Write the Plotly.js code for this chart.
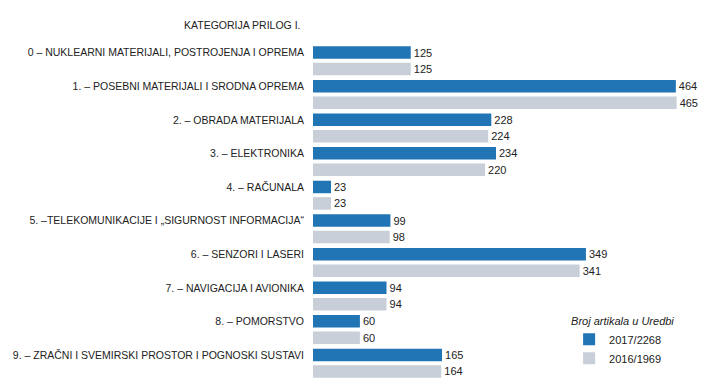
<!DOCTYPE html>
<html><head><meta charset="utf-8">
<script src="https://cdn.plot.ly/plotly-3.0.1.min.js"></script>
<style>html,body{margin:0;padding:0;background:#fff}</style>
</head><body>
<div id="chart" style="width:707px;height:391px"></div>
<script>
const categories = [
  "0 – NUKLEARNI MATERIJALI, POSTROJENJA I OPREMA",
  "1. – POSEBNI MATERIJALI I SRODNA OPREMA",
  "2. – OBRADA MATERIJALA",
  "3. – ELEKTRONIKA",
  "4. – RAČUNALA",
  "5. –TELEKOMUNIKACIJE I „SIGURNOST INFORMACIJA“",
  "6. – SENZORI I LASERI",
  "7. – NAVIGACIJA I AVIONIKA",
  "8. – POMORSTVO",
  "9. – ZRAČNI I SVEMIRSKI PROSTOR I POGNOSKI SUSTAVI"
];
const values2017 = [125, 464, 228, 234, 23, 99, 349, 94, 60, 165];
const values2016 = [125, 465, 224, 220, 23, 98, 341, 94, 60, 164];
const seriesNames = ["2017/2268", "2016/1969"];
const headerText = "KATEGORIJA PRILOG I.";
const legendTitle = "Broj artikala u Uredbi";

const txtFont = {family: "Liberation Sans, Arial, sans-serif", size: 11, color: "#222"};
const traces = [
  {type: "bar", orientation: "h", name: seriesNames[0], y: categories, x: values2017,
   marker: {color: "#2275B5"}, text: values2017.map(String), textposition: "outside",
   textfont: txtFont, cliponaxis: false, hoverinfo: "x+y"},
  {type: "bar", orientation: "h", name: seriesNames[1], y: categories, x: values2016,
   marker: {color: "#C8CFD8"}, text: values2016.map(String), textposition: "outside",
   textfont: txtFont, cliponaxis: false, hoverinfo: "x+y"}
];
const layout = {
  width: 707, height: 391,
  margin: {l: 313, r: 3, t: 44, b: 11, autoexpand: false},
  paper_bgcolor: "#fff", plot_bgcolor: "#fff",
  barmode: "group", bargap: 0.02, bargroupgap: 0.24,
  showlegend: true,
  font: {family: "Liberation Sans, Arial, sans-serif", size: 11, color: "#222"},
  xaxis: {range: [0, 500], showgrid: false, zeroline: false, showticklabels: false, showline: false, fixedrange: true},
  yaxis: {type: "category", autorange: "reversed", showgrid: false, zeroline: false, showline: false,
          ticks: "", ticklabelshift: 8, ticklabelstandoff: 8,
          tickfont: {family: "Liberation Sans, Arial, sans-serif", size: 10.5, color: "#222"}},
  legend: {x: 0.655, y: 0.207, xanchor: "left", yanchor: "top",
           title: {text: "<i>" + legendTitle + "</i>", side: "top", font: {size: 11, color: "#222"}},
           font: {size: 11, color: "#222"}, tracegroupgap: 0, itemwidth: 30, bgcolor: "rgba(0,0,0,0)"},
  annotations: [{xref: "paper", yref: "paper", x: 0, y: 1 + 19/335.5, xanchor: "right", yanchor: "middle",
                 xshift: -10, text: headerText, showarrow: false,
                 font: {family: "Liberation Sans, Arial, sans-serif", size: 10.5, color: "#222"}}]
};
Plotly.newPlot("chart", traces, layout, {displayModeBar: false, staticPlot: true});
</script>
</body></html>
